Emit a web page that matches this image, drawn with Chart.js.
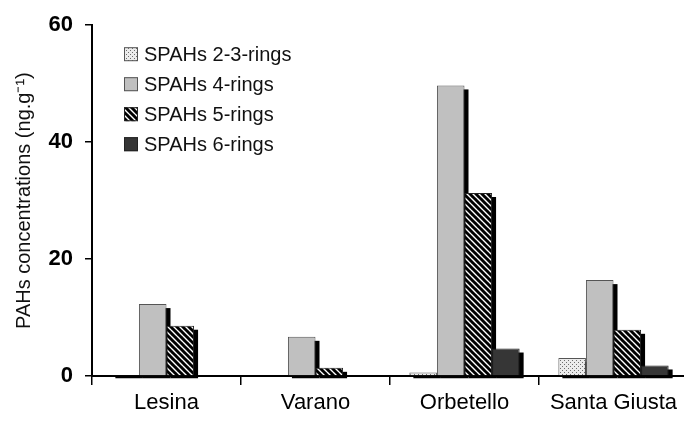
<!DOCTYPE html>
<html>
<head>
<meta charset="utf-8">
<script src="https://cdn.jsdelivr.net/npm/chart.js@4.4.1/dist/chart.umd.min.js"></script>
<style>
  html, body { margin: 0; padding: 0; background: #fff; overflow: hidden; }
  #wrap { width: 688px; height: 423px; }
</style>
</head>
<body>
<div id="wrap"><canvas id="c" width="688" height="423"></canvas></div>
<script>
// ---- data ----
const categories = ["Lesina", "Varano", "Orbetello", "Santa Giusta"];
const seriesLabels = ["SPAHs 2-3-rings", "SPAHs 4-rings", "SPAHs 5-rings", "SPAHs 6-rings"];
const rings23 = [0.1, null, 0.6, 3.1];
const rings4  = [12.3, 6.7, 49.7, 16.4];
const rings5  = [8.6, 1.4, 31.3, 7.9];
const rings6  = [null, null, 4.7, 1.8];
const yTicks  = [0, 20, 40, 60];
const yTitle  = "PAHs concentrations (ng.g\u207B\u00B9)";

// ---- fill patterns ----
function dotPattern() {
  const c = document.createElement('canvas'); c.width = 4; c.height = 4;
  const g = c.getContext('2d');
  g.fillStyle = '#ececec'; g.fillRect(0, 0, 4, 4);
  g.fillStyle = '#6e6e6e'; g.fillRect(0, 0, 1, 1); g.fillRect(2, 2, 1, 1);
  return g.createPattern(c, 'repeat');
}
function stripePattern() {
  const s = 6;
  const c = document.createElement('canvas'); c.width = s; c.height = s;
  const g = c.getContext('2d');
  g.fillStyle = '#ffffff'; g.fillRect(0, 0, s, s);
  g.strokeStyle = '#000000'; g.lineWidth = 3.0;
  for (const o of [-s, 0, s]) {
    g.beginPath(); g.moveTo(o - 1, -1); g.lineTo(o + s + 1, s + 1); g.stroke();
  }
  return g.createPattern(c, 'repeat');
}

const fills   = [dotPattern(), '#c0c0c0', stripePattern(), '#363636'];
const borders = ['#555555', '#555555', '#222222', '#222222'];
const seriesData = [rings23, rings4, rings5, rings6];

const FONT = "'Liberation Sans', Arial, Helvetica, sans-serif";

// ---- shadow behind each bar ----
const shadowPlugin = {
  id: 'barShadow',
  beforeDatasetsDraw(chart) {
    const ctx = chart.ctx;
    ctx.save();
    ctx.fillStyle = '#000';
    chart.data.datasets.forEach((ds, i) => {
      const meta = chart.getDatasetMeta(i);
      meta.data.forEach((bar, j) => {
        if (ds.data[j] == null) return;
        const p = bar.getProps(['x', 'y', 'base', 'width'], true);
        const top = Math.min(p.y + 4, p.base);
        ctx.fillRect(p.x - p.width / 2 + 4, top, p.width, p.base + 3 - top);
      });
    });
    ctx.restore();
  }
};

// ---- legend inside the plot ----
const legendPlugin = {
  id: 'insideLegend',
  afterDraw(chart) {
    const ctx = chart.ctx;
    const a = chart.chartArea;
    const bx = a.left + 32, by0 = a.top + 29, step = 30, box = 14;
    ctx.save();
    ctx.font = "20px " + FONT;
    ctx.textBaseline = 'middle';
    ctx.textAlign = 'left';
    chart.data.datasets.forEach((ds, i) => {
      const cy = by0 + i * step;
      ctx.fillStyle = ds.backgroundColor;
      ctx.fillRect(bx, cy - box / 2, box, box);
      ctx.lineWidth = 1;
      ctx.strokeStyle = ds.borderColor;
      ctx.strokeRect(bx + 0.5, cy - box / 2 + 0.5, box - 1, box - 1);
      ctx.fillStyle = '#111';
      ctx.fillText(ds.label, bx + box + 6, cy + 1);
    });
    ctx.restore();
  }
};

new Chart(document.getElementById('c'), {
  type: 'bar',
  data: {
    labels: categories,
    datasets: seriesLabels.map((lab, i) => ({
      label: lab,
      data: seriesData[i],
      backgroundColor: fills[i],
      borderColor: borders[i],
      borderWidth: 1,
      borderSkipped: 'bottom',
      categoryPercentage: 0.74,
      barPercentage: 1.0
    }))
  },
  options: {
    responsive: false,
    animation: false,
    devicePixelRatio: 1,
    layout: { padding: { top: 18, right: 0, left: 0, bottom: 0 } },
    plugins: {
      legend: { display: false },
      tooltip: { enabled: false }
    },
    scales: {
      x: {
        offset: true,
        grid: {
          offset: true,
          drawOnChartArea: false,
          drawTicks: true,
          tickLength: 9,
          color: '#000',
          lineWidth: 1.5
        },
        border: { display: true, color: '#000', width: 2 },
        ticks: {
          color: '#000',
          padding: 5,
          font: { family: FONT, size: 22 }
        },
        afterFit(s) { s.height = 47; }
      },
      y: {
        min: 0,
        max: 60,
        afterBuildTicks(s) { s.ticks = yTicks.map(v => ({ value: v })); },
        grid: {
          drawOnChartArea: false,
          drawTicks: true,
          tickLength: 7,
          color: '#000',
          lineWidth: 1.5
        },
        border: { display: true, color: '#000', width: 2 },
        ticks: {
          color: '#000',
          padding: 12,
          font: { family: FONT, size: 22, weight: 'bold' }
        },
        title: {
          display: true,
          text: yTitle,
          color: '#111',
          font: { family: FONT, size: 20 },
          padding: { top: 12, bottom: 0 }
        },
        afterFit(s) { s.width = 92; }
      }
    }
  },
  plugins: [shadowPlugin, legendPlugin]
});
</script>
</body>
</html>
